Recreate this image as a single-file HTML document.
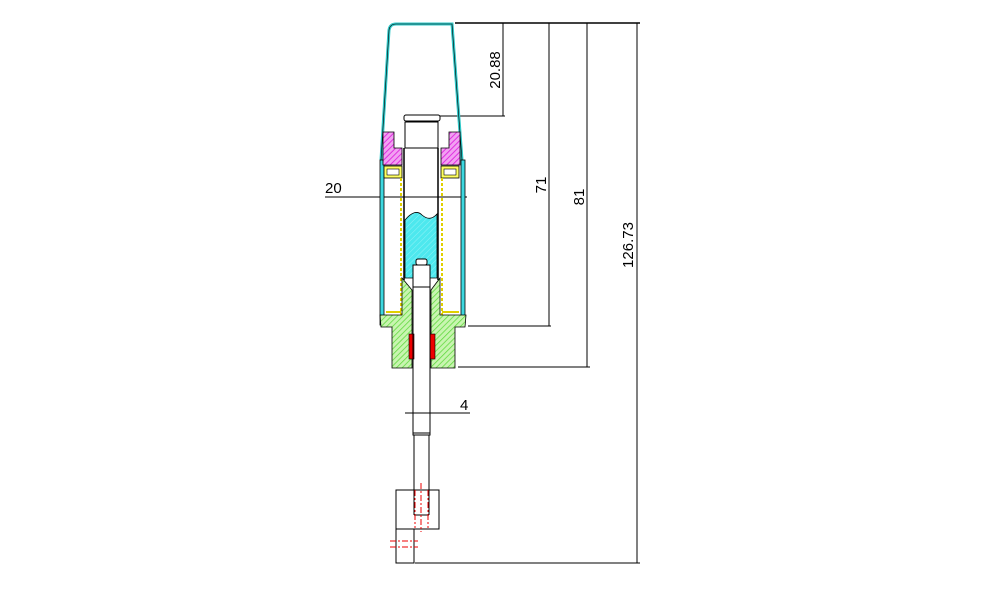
<!DOCTYPE html>
<html><head><meta charset="utf-8"><style>html,body{margin:0;padding:0;background:#fff}svg{display:block}</style></head>
<body>
<svg width="1000" height="593" viewBox="0 0 1000 593" xmlns="http://www.w3.org/2000/svg" font-family="Liberation Sans, sans-serif">
<defs>
<pattern id="hm" patternUnits="userSpaceOnUse" width="4" height="4" patternTransform="rotate(45)"><rect width="4" height="4" fill="#f2a0f2"/><line x1="0" y1="0" x2="0" y2="4" stroke="#e030e0" stroke-width="2"/></pattern>
<pattern id="hg" patternUnits="userSpaceOnUse" width="4" height="4" patternTransform="rotate(45)"><rect width="4" height="4" fill="#c8f5b0"/><line x1="0" y1="0" x2="0" y2="4" stroke="#5cd83a" stroke-width="1.5"/></pattern>
<pattern id="hc" patternUnits="userSpaceOnUse" width="4" height="4" patternTransform="rotate(45)"><rect width="4" height="4" fill="#4de8ee"/><line x1="0" y1="0" x2="0" y2="4" stroke="#8ef2f5" stroke-width="1"/></pattern>
</defs>
<g fill="none" stroke="#000" stroke-width="1">
<line x1="455" y1="23" x2="640" y2="23" stroke-width="1.5"/>
<line x1="503" y1="23" x2="503" y2="116"/>
<line x1="440" y1="116" x2="505" y2="116"/>
<line x1="549" y1="23" x2="549" y2="326"/>
<line x1="468" y1="326" x2="551" y2="326"/>
<line x1="587" y1="23" x2="587" y2="367"/>
<line x1="458" y1="367" x2="590" y2="367"/>
<line x1="637" y1="23" x2="637" y2="563"/>
<line x1="415" y1="563" x2="640" y2="563"/>
<line x1="325" y1="197" x2="467" y2="197"/>
<line x1="405" y1="413" x2="470" y2="413"/>
</g>
<g font-size="15" fill="#000">
<text x="325" y="193">20</text>
<text x="460" y="410">4</text>
<text transform="translate(500,70) rotate(-90)" text-anchor="middle">20.88</text>
<text transform="translate(546,185) rotate(-90)" text-anchor="middle">71</text>
<text transform="translate(584,197) rotate(-90)" text-anchor="middle">81</text>
<text transform="translate(633,245) rotate(-90)" text-anchor="middle">126.73</text>
</g>
<path d="M381,160 L389,30 Q390,24 396,24 L452,24 L462,160" fill="none" stroke="#30c8c8" stroke-width="3"/>
<path d="M381,160 L389,30 Q390,24 396,24 L452,24 L462,160" fill="none" stroke="#000" stroke-width="0.6"/>
<rect x="380" y="160" width="4" height="165" fill="#3dd8e0" stroke="#000" stroke-width="0.8"/>
<rect x="461" y="160" width="4" height="165" fill="#3dd8e0" stroke="#000" stroke-width="0.8"/>
<path d="M383,132 L394,132 L394,148 L402,148 L402,165 L383,165Z" fill="url(#hm)" stroke="#000" stroke-width="0.8"/>
<path d="M460,132 L449,132 L449,148 L441,148 L441,165 L460,165Z" fill="url(#hm)" stroke="#000" stroke-width="0.8"/>
<rect x="384" y="166" width="18" height="12" fill="#ffff60" stroke="#000" stroke-width="0.8"/>
<rect x="387" y="169" width="12" height="6" fill="#fff" stroke="#000" stroke-width="0.6"/>
<rect x="441" y="166" width="18" height="12" fill="#ffff60" stroke="#000" stroke-width="0.8"/>
<rect x="444" y="169" width="12" height="6" fill="#fff" stroke="#000" stroke-width="0.6"/>
<line x1="401" y1="178" x2="401" y2="316" stroke="#e0d000" stroke-width="2" stroke-dasharray="3,2"/>
<line x1="442" y1="178" x2="442" y2="316" stroke="#e0d000" stroke-width="2" stroke-dasharray="3,2"/>
<line x1="386" y1="312" x2="401" y2="312" stroke="#e0d000" stroke-width="2"/>
<line x1="442" y1="312" x2="459" y2="312" stroke="#e0d000" stroke-width="2"/>
<line x1="404" y1="148" x2="404" y2="280" stroke="#000" stroke-width="1.5"/>
<line x1="438" y1="148" x2="438" y2="280" stroke="#000" stroke-width="1.5"/>
<path d="M405,220 Q415,208 422,215 Q430,222 437,214 L437,278 L405,278Z" fill="url(#hc)" stroke="#000" stroke-width="0.8"/>
<path d="M380,315 L402,315 L402,278 L412,290 L412,368 L392,368 L392,327 L381,327Z" fill="url(#hg)" stroke="#000" stroke-width="0.8"/>
<path d="M466,315 L440,315 L440,278 L431,290 L431,368 L455,368 L455,327 L465,327Z" fill="url(#hg)" stroke="#000" stroke-width="0.8"/>
<rect x="409" y="334" width="5" height="25" fill="#ee0000" stroke="#000" stroke-width="0.6"/>
<rect x="430" y="334" width="5" height="25" fill="#ee0000" stroke="#000" stroke-width="0.6"/>
<rect x="405" y="122" width="33" height="26" fill="#fff" stroke="#000"/>
<rect x="404" y="115" width="36" height="6" rx="2" fill="#fff" stroke="#000"/>
<rect x="413" y="265" width="17" height="22" fill="#fff" stroke="#000"/>
<rect x="416" y="259" width="11" height="6" rx="2" fill="#fff" stroke="#000"/>
<g stroke="#000" fill="none">
<line x1="413" y1="287" x2="413" y2="433"/>
<line x1="430" y1="287" x2="430" y2="433"/>
<rect x="413" y="433" width="17" height="2" fill="#fff"/>
<line x1="414" y1="435" x2="414" y2="515"/>
<line x1="429" y1="435" x2="429" y2="515"/>
<line x1="414" y1="515" x2="429" y2="515"/>
<rect x="396" y="490" width="43" height="39"/>
<path d="M396,529 L396,563 L414,563 L414,529"/>
</g>
<g stroke="#ee0000" stroke-dasharray="6,2,2,2" fill="none">
<line x1="421" y1="483" x2="421" y2="532"/>
<line x1="415" y1="490" x2="415" y2="528"/>
<line x1="428" y1="490" x2="428" y2="528"/>
<line x1="390" y1="541" x2="418" y2="541"/>
<line x1="390" y1="547" x2="418" y2="547"/>
</g>
</svg>
</body></html>
